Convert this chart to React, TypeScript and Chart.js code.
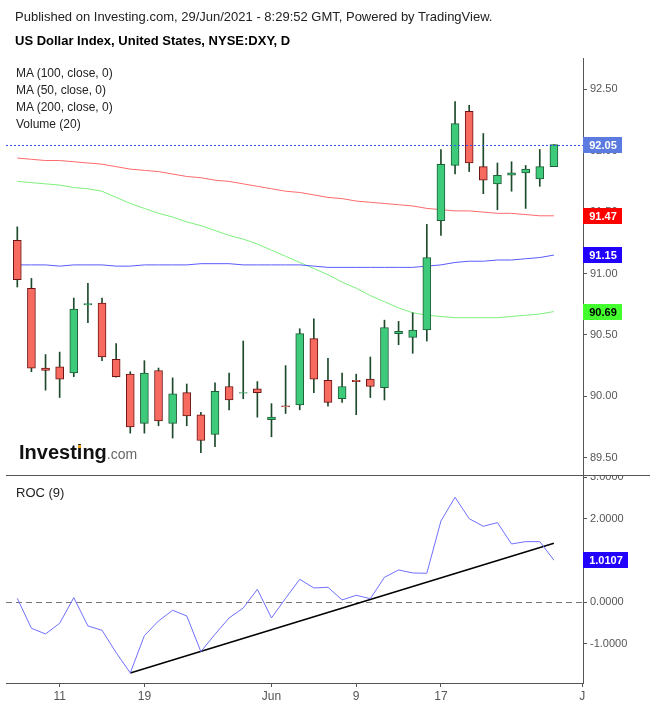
import React, { useEffect, useRef } from 'react';
import { Chart, registerables } from 'chart.js';

Chart.register(...registerables);

// ---------- DATA ----------
const dates = ['May 6','May 7','May 10','May 11','May 12','May 13','May 14','May 17','May 18','May 19','May 20','May 21','May 24','May 25','May 26','May 27','May 28','May 31','Jun 1','Jun 2','Jun 3','Jun 4','Jun 7','Jun 8','Jun 9','Jun 10','Jun 11','Jun 14','Jun 15','Jun 16','Jun 17','Jun 18','Jun 21','Jun 22','Jun 23','Jun 24','Jun 25','Jun 28','Jun 29'];
const opens = [91.27,90.88,90.23,90.24,90.19,90.745,90.76,90.30,90.18,89.78,90.21,89.78,90.03,89.85,89.69,90.08,90.025,90.06,89.81,89.922,89.93,90.47,90.13,89.98,90.13,90.14,90.07,90.51,90.48,90.54,91.43,91.88,92.32,91.87,91.73,91.80,91.82,91.77,91.87];
const highs = [91.38,90.96,90.34,90.36,90.80,90.92,90.80,90.43,90.20,90.29,90.23,90.15,90.10,89.87,90.11,90.19,90.45,90.12,89.94,90.25,90.55,90.63,90.31,90.19,90.18,90.32,90.62,90.61,90.68,91.40,92.01,92.40,92.37,92.14,91.90,91.91,91.88,92.01,92.05];
const lows = [90.89,90.20,90.05,89.99,90.16,90.60,90.29,90.155,89.70,89.70,89.76,89.66,89.76,89.54,89.59,89.89,89.98,89.83,89.67,89.86,89.89,90.03,89.92,89.95,89.85,89.99,89.97,90.42,90.35,90.45,91.31,91.81,91.83,91.65,91.52,91.67,91.53,91.71,91.87];
const closes = [90.95,90.23,90.21,90.14,90.71,90.755,90.32,90.16,89.75,90.19,89.80,90.02,89.84,89.64,90.04,89.97,90.03,90.03,89.83,89.915,90.51,90.14,89.95,90.08,90.12,90.08,90.56,90.53,90.54,91.13,91.89,92.22,91.90,91.76,91.80,91.82,91.85,91.87,92.05];
const ma100 = [91.07,91.07,91.07,91.06,91.07,91.07,91.07,91.06,91.06,91.07,91.07,91.07,91.07,91.08,91.08,91.08,91.07,91.07,91.07,91.07,91.07,91.06,91.05,91.05,91.05,91.05,91.05,91.05,91.05,91.06,91.07,91.09,91.10,91.10,91.11,91.11,91.12,91.13,91.15];
const ma50 = [91.75,91.74,91.73,91.72,91.70,91.69,91.67,91.62,91.57,91.53,91.49,91.46,91.42,91.39,91.35,91.31,91.28,91.24,91.19,91.14,91.09,91.04,90.99,90.93,90.88,90.82,90.77,90.72,90.68,90.66,90.65,90.64,90.64,90.64,90.64,90.65,90.66,90.67,90.69];
const ma200 = [91.94,91.93,91.92,91.92,91.91,91.90,91.89,91.87,91.85,91.84,91.83,91.81,91.79,91.78,91.76,91.75,91.73,91.71,91.69,91.67,91.66,91.64,91.62,91.61,91.59,91.58,91.57,91.56,91.55,91.53,91.52,91.51,91.51,91.50,91.49,91.49,91.48,91.47,91.47];
const roc = [0.096,-0.624,-0.76,-0.504,0.112,-0.568,-0.672,-1.208,-1.696,-0.8,-0.448,-0.192,-0.328,-1.184,-0.768,-0.376,-0.136,0.312,-0.376,0.096,0.552,0.344,0.36,0.056,0.168,0.088,0.6,0.776,0.704,0.696,1.952,2.52,2.008,1.824,1.912,1.4,1.456,1.456,1.0107];
const trendX = [8, 38];
const trendY = [-1.696, 1.416];
const xTickIdx = [3, 9, 18, 24, 30, 40];
const xTickLabels = ['11', '19', 'Jun', '9', '17', 'J'];
const priceTicks = [89.5, 90, 90.5, 91, 91.5, 92, 92.5];
const rocTicks = [-1, 0, 1, 2, 3];
const legendLines = ['MA (100, close, 0)', 'MA (50, close, 0)', 'MA (200, close, 0)', 'Volume (20)'];

// ---------- CONFIG ----------
const FONT = '"Liberation Sans", Arial, Helvetica, sans-serif';
const X_MIN = -0.8, X_MAX = 40.06;
const P_MIN = 89.359, P_MAX = 92.755;
const R_MIN = -1.937, R_MAX = 3.055;
const AXIS = '#555555';

const zeroPad = (s: any) => {
  s.paddingTop = 0; s.paddingBottom = 0; s.paddingLeft = 0; s.paddingRight = 0;
};

function drawTag(ctx: any, x: number, y: number, w: number, text: string, bg: string, fg: string) {
  ctx.save();
  ctx.fillStyle = bg;
  ctx.fillRect(x, Math.round(y) - 8, w, 16);
  ctx.fillStyle = fg;
  ctx.font = `bold 11px ${FONT}`;
  ctx.textAlign = 'center';
  ctx.textBaseline = 'middle';
  ctx.fillText(text, x + w / 2 + 0.5, Math.round(y) + 0.5);
  ctx.restore();
}

export default function App() {
  const refA = useRef<HTMLCanvasElement>(null);
  const refB = useRef<HTMLCanvasElement>(null);

  useEffect(() => {
    document.body.style.margin = '0';
    const last = closes.length - 1;
    const up = closes.map((c, i) => c >= opens[i]);

    const pricePlugin = {
      id: 'priceExtras',
      afterDatasetsDraw(chart: any) {
        const { ctx, chartArea, scales } = chart;
        const yy = Math.round(scales.y.getPixelForValue(closes[last])) + 0.5;
        ctx.save();
        ctx.strokeStyle = '#2f55e6';
        ctx.lineWidth = 1;
        ctx.setLineDash([2, 2]);
        ctx.beginPath();
        ctx.moveTo(chartArea.left, yy);
        ctx.lineTo(chartArea.right, yy);
        ctx.stroke();
        ctx.restore();
      },
      afterDraw(chart: any) {
        const { ctx, chartArea, scales } = chart;
        const y = scales.y;
        const x = chartArea.right;
        drawTag(ctx, x, y.getPixelForValue(closes[last]), 39, closes[last].toFixed(2), '#5b7be0', '#ffffff');
        drawTag(ctx, x, y.getPixelForValue(ma200[last]), 39, ma200[last].toFixed(2), '#ff0000', '#ffffff');
        drawTag(ctx, x, y.getPixelForValue(ma100[last]), 39, ma100[last].toFixed(2), '#2200ff', '#ffffff');
        drawTag(ctx, x, y.getPixelForValue(ma50[last]), 39, ma50[last].toFixed(2), '#44ff2e', '#000000');
      },
    };

    const a = new Chart(refA.current as HTMLCanvasElement, {
      type: 'bar',
      data: {
        datasets: [
          {
            type: 'bar',
            label: 'body',
            data: dates.map((_, i) => ({ x: i, y: [opens[i], closes[i]] })) as any,
            backgroundColor: up.map((u) => (u ? '#3dca7a' : '#f76a5f')),
            borderColor: up.map((u) => (u ? '#1f5e37' : '#6e1414')),
            borderWidth: 1,
            borderSkipped: false,
            barThickness: 8,
            grouped: false,
            order: 1,
          } as any,
          {
            type: 'bar',
            label: 'wick',
            data: dates.map((_, i) => ({ x: i, y: [lows[i], highs[i]] })) as any,
            backgroundColor: '#1e4a2c',
            borderWidth: 0,
            barThickness: 1,
            grouped: false,
            order: 2,
          } as any,
          {
            type: 'line',
            label: 'MA (100, close, 0)',
            data: ma100.map((v, i) => ({ x: i, y: v })),
            borderColor: '#5a5aff',
            borderWidth: 1,
            pointRadius: 0,
            order: 3,
          } as any,
          {
            type: 'line',
            label: 'MA (50, close, 0)',
            data: ma50.map((v, i) => ({ x: i, y: v })),
            borderColor: '#7df07d',
            borderWidth: 1,
            pointRadius: 0,
            order: 3,
          } as any,
          {
            type: 'line',
            label: 'MA (200, close, 0)',
            data: ma200.map((v, i) => ({ x: i, y: v })),
            borderColor: '#ff6a6a',
            borderWidth: 1,
            pointRadius: 0,
            order: 3,
          } as any,
        ],
      },
      options: {
        responsive: false,
        animation: false,
        layout: { padding: { left: 6, top: 58, right: 0, bottom: 0 } },
        plugins: { legend: { display: false }, tooltip: { enabled: false } },
        scales: {
          x: { type: 'linear', min: X_MIN, max: X_MAX, offset: false, display: false },
          y: {
            position: 'right',
            min: P_MIN,
            max: P_MAX,
            afterBuildTicks: (s: any) => { s.ticks = priceTicks.map((v) => ({ value: v })); },
            afterFit: (s: any) => { s.width = 67; zeroPad(s); },
            ticks: {
              callback: (v: any) => Number(v).toFixed(2),
              font: { family: FONT, size: 11 },
              color: AXIS,
              padding: 3,
            },
            grid: { drawOnChartArea: false, drawTicks: true, tickLength: 4, color: AXIS },
            border: { display: true, color: AXIS, width: 1 },
          },
        },
      } as any,
      plugins: [pricePlugin],
    });

    const rocPlugin = {
      id: 'rocExtras',
      beforeDatasetsDraw(chart: any) {
        const { ctx, chartArea, scales } = chart;
        const y0 = Math.round(scales.y.getPixelForValue(0)) + 0.5;
        ctx.save();
        ctx.strokeStyle = '#777777';
        ctx.lineWidth = 1;
        ctx.setLineDash([6, 4]);
        ctx.beginPath();
        ctx.moveTo(chartArea.left, y0);
        ctx.lineTo(chartArea.right, y0);
        ctx.stroke();
        ctx.restore();
      },
      afterDraw(chart: any) {
        const { ctx, chartArea, scales, width } = chart;
        ctx.save();
        ctx.strokeStyle = AXIS;
        ctx.lineWidth = 1;
        ctx.beginPath();
        ctx.moveTo(chartArea.left, 0.5);
        ctx.lineTo(width, 0.5);
        ctx.stroke();
        ctx.restore();
        const lv = roc[roc.length - 1];
        drawTag(ctx, chartArea.right, scales.y.getPixelForValue(lv), 45, lv.toFixed(4), '#2200ff', '#ffffff');
      },
    };

    const b = new Chart(refB.current as HTMLCanvasElement, {
      type: 'line',
      data: {
        datasets: [
          {
            label: 'ROC (9)',
            data: roc.map((v, i) => ({ x: i, y: v })),
            borderColor: '#6f6fff',
            borderWidth: 1,
            pointRadius: 0,
          },
          {
            label: 'trend',
            data: trendX.map((x, k) => ({ x, y: trendY[k] })),
            borderColor: '#000000',
            borderWidth: 1.5,
            pointRadius: 0,
          },
        ],
      },
      options: {
        responsive: false,
        animation: false,
        layout: { padding: { left: 6, top: 0, right: 0, bottom: 0 } },
        plugins: { legend: { display: false }, tooltip: { enabled: false } },
        scales: {
          x: {
            type: 'linear',
            min: X_MIN,
            max: X_MAX,
            offset: false,
            afterBuildTicks: (s: any) => { s.ticks = xTickIdx.map((v) => ({ value: v })); },
            afterFit: (s: any) => { s.height = 27; zeroPad(s); },
            ticks: {
              callback: (_v: any, i: number) => xTickLabels[i],
              autoSkip: false,
              maxRotation: 0,
              font: { family: FONT, size: 12 },
              color: AXIS,
              padding: 2,
            },
            grid: { drawOnChartArea: false, drawTicks: true, tickLength: 4, color: AXIS },
            border: { display: true, color: AXIS, width: 1 },
          },
          y: {
            position: 'right',
            min: R_MIN,
            max: R_MAX,
            afterBuildTicks: (s: any) => { s.ticks = rocTicks.map((v) => ({ value: v })); },
            afterFit: (s: any) => { s.width = 67; zeroPad(s); },
            ticks: {
              callback: (v: any) => Number(v).toFixed(4),
              font: { family: FONT, size: 11 },
              color: AXIS,
              padding: 3,
            },
            grid: { drawOnChartArea: false, drawTicks: true, tickLength: 4, color: AXIS },
            border: { display: true, color: AXIS, width: 1 },
          },
        },
      } as any,
      plugins: [rocPlugin],
    });

    return () => {
      a.destroy();
      b.destroy();
    };
  }, []);

  const txt = (top: number, left: number, size: number, extra: any = {}) => ({
    position: 'absolute' as const,
    top,
    left,
    fontSize: size,
    lineHeight: `${size + 3}px`,
    whiteSpace: 'nowrap' as const,
    color: '#222',
    pointerEvents: 'none' as const,
    ...extra,
  });

  return (
    <div style={{ position: 'relative', width: 650, height: 710, background: '#fff', overflow: 'hidden', fontFamily: FONT }}>
      <canvas ref={refA} width={650} height={475} style={{ position: 'absolute', left: 0, top: 0, width: 650, height: 475 }} />
      <canvas ref={refB} width={650} height={235} style={{ position: 'absolute', left: 0, top: 475, width: 650, height: 235 }} />
      <div style={txt(9, 15, 13)}>Published on Investing.com, 29/Jun/2021 - 8:29:52 GMT, Powered by TradingView.</div>
      <div style={txt(33, 15, 13, { fontWeight: 'bold', color: '#000' })}>US Dollar Index, United States, NYSE:DXY, D</div>
      {legendLines.map((l, i) => (
        <div key={l} style={txt(66 + i * 17, 16, 12)}>{l}</div>
      ))}
      <div style={txt(485, 16, 13)}>ROC (9)</div>
      <div style={{ position: 'absolute', top: 440, left: 19, lineHeight: '24px', whiteSpace: 'nowrap', pointerEvents: 'none' }}>
        <span style={{ fontSize: 20, fontWeight: 'bold', color: '#111' }}>
          Invest
          <span style={{ position: 'relative' }}>
            i
            <span style={{ position: 'absolute', top: 4, left: 1.3, width: 3, height: 3, background: '#f5a31a' }} />
          </span>
          ng
        </span>
        <span style={{ fontSize: 14, color: '#666' }}>.com</span>
      </div>
    </div>
  );
}
